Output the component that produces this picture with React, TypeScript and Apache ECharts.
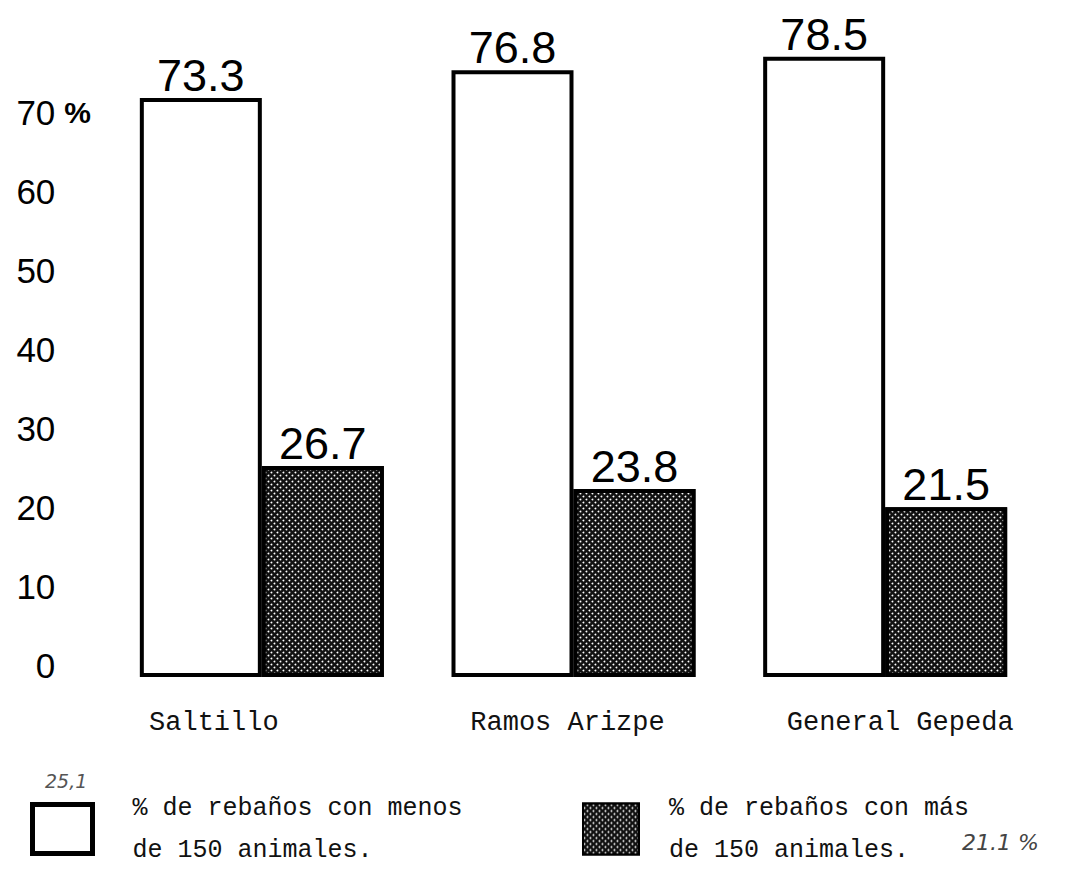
import React, { useEffect, useRef } from "react";
import * as echarts from "echarts";

const categories = ["Saltillo", "Ramos Arizpe", "General Gepeda"];
const menos150 = [73.3, 76.8, 78.5];
const mas150 = [26.7, 23.8, 21.5];
const seriesNames = [
  "% de rebaños con menos\nde 150 animales.",
  "% de rebaños con más\nde 150 animales.",
];
const yMin = 0;
const yMax = 80;
const yStep = 10;
const notes = ["25,1", "21.1 %"];

// label offsets (style only)
const catPadding = [
  [0, 96, 0, 0],
  [0, 12, 0, 0],
  [0, 0, 0, 30],
];

export default function App() {
  const ref = useRef<HTMLDivElement>(null);
  useEffect(() => {
    if (!ref.current) return;
    const chart = echarts.init(ref.current, null, { renderer: "svg" });
    const valueFont = "'Liberation Sans', Arial, Helvetica, sans-serif";
    const monoFont = "'Liberation Mono', 'DejaVu Sans Mono', monospace";
    const valueLabel = {
      show: true,
      position: "top",
      distance: 0,
      fontFamily: valueFont,
      fontSize: 45,
      color: "#000",
    };
    chart.setOption({
      animation: false,
      backgroundColor: "#fff",
      grid: { left: 106, right: 39, top: 45, bottom: 192 },
      xAxis: {
        type: "category",
        data: categories.map((c, i) => ({
          value: c,
          textStyle: { padding: catPadding[i] },
        })),
        axisLine: { show: false },
        axisTick: { show: false },
        axisLabel: {
          margin: 32,
          fontFamily: monoFont,
          fontSize: 27,
          color: "#111",
        },
      },
      yAxis: {
        type: "value",
        min: yMin,
        max: yMax,
        interval: yStep,
        splitLine: { show: false },
        axisLine: { show: false },
        axisTick: { show: false },
        axisLabel: {
          margin: 15,
          padding: [0, 0, 24, 0],
          formatter: (v: number) => {
            if (v >= yMax) return "";
            if (v === 70) return `{n|${v}}{p|%}`;
            return `{n|${v}}{h|%}`;
          },
          rich: {
            n: { fontFamily: valueFont, fontSize: 35, color: "#000" },
            p: {
              fontFamily: valueFont,
              fontSize: 30,
              fontWeight: "bold",
              color: "#000",
              padding: [0, 0, 0, 9],
            },
            h: {
              fontFamily: valueFont,
              fontSize: 30,
              fontWeight: "bold",
              color: "transparent",
              padding: [0, 0, 0, 9],
            },
          },
        },
      },
      legend: [
        {
          data: [seriesNames[0]],
          left: 30,
          top: 787,
          padding: 0,
          itemWidth: 60,
          itemHeight: 49,
          icon: "rect",
          itemStyle: { borderWidth: 5, borderColor: "#000", color: "#fff" },
          textStyle: {
            fontFamily: monoFont,
            fontSize: 25,
            lineHeight: 42,
            color: "#111",
            padding: [0, 0, 0, 35],
          },
        },
        {
          data: [seriesNames[1]],
          left: 582,
          top: 787,
          padding: 0,
          itemWidth: 56,
          itemHeight: 51,
          icon: "rect",
          textStyle: {
            fontFamily: monoFont,
            fontSize: 25,
            lineHeight: 42,
            color: "#111",
            padding: [0, 0, 0, 25],
          },
        },
      ],
      series: [
        {
          name: seriesNames[0],
          type: "bar",
          data: menos150,
          barWidth: 122,
          barGap: "0%",
          itemStyle: { color: "#fff", borderColor: "#000", borderWidth: 4 },
          label: valueLabel,
        },
        {
          name: seriesNames[1],
          type: "bar",
          data: mas150,
          barWidth: 122,
          barGap: "0%",
          itemStyle: {
            color: "#111",
            borderColor: "#000",
            borderWidth: 4,
            decal: {
              symbol: "circle",
              symbolSize: 0.6,
              color: "#ffffff",
              backgroundColor: "#111",
              dashArrayX: [
                [3, 3],
                [0, 3, 3, 0],
              ],
              dashArrayY: [3, 0],
            },
          },
          label: valueLabel,
        },
      ],
      graphic: [
        {
          type: "text",
          left: 45,
          top: 771,
          style: {
            text: notes[0],
            fontFamily: "'DejaVu Sans', sans-serif",
            fontStyle: "italic",
            fontSize: 19,
            fill: "#555",
          },
        },
        {
          type: "text",
          left: 962,
          top: 831,
          style: {
            text: notes[1],
            fontFamily: "'DejaVu Sans', sans-serif",
            fontStyle: "italic",
            fontSize: 22,
            fill: "#444",
          },
        },
      ],
    });
    return () => chart.dispose();
  }, []);
  return (
    <div
      ref={ref}
      style={{ position: "absolute", left: 0, top: 0, width: 1080, height: 869 }}
    />
  );
}
